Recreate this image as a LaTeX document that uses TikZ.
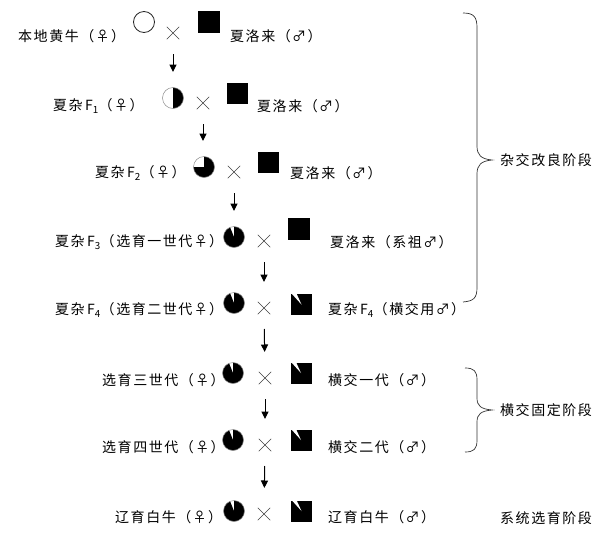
\documentclass[tikz,border=0pt]{standalone}
\usepackage{fontspec}
\setmainfont{Noto Sans CJK SC}[LetterSpace=11]
\usepackage{tikz}
\usetikzlibrary{arrows.meta, shapes.misc}
\newcommand{\fsym}{\makebox[1.2em]{♀}}
\newcommand{\msym}{\makebox[1.2em]{♂}}
\tikzset{
	x=1pt, y=1pt, % one unit is one pixel of the reference
	tag/.style={font=\fontsize{14}{16}\selectfont, inner sep=0pt, anchor=west}, % every text
	cow/.style={circle, draw=black!85, line width=0.8pt, minimum size=21pt, inner sep=0pt}, % female symbol
	hybrid/.style={cow, draw=black!45, line width=0.5pt, path picture={\fill (path picture bounding box.center) -- ++(#1:13pt) arc[start angle=#1, end angle=450, radius=13pt] -- cycle;}}, % black from #1 round to the top
	bull/.style={rectangle, fill=black, minimum size=21pt, inner sep=0pt}, % male symbol
	cbull/.style={bull, path picture={\fill[white] (path picture bounding box.center) -- ([xshift=1pt]path picture bounding box.north west) -- ([xshift=-4.8pt]path picture bounding box.north) -- cycle;}},
	mate/.style={cross out, draw=black!75, line width=0.5pt, minimum size=12pt, inner sep=0pt}, % the cross sign
	gen/.style={-{Triangle[length=7.5pt, width=7pt]}, line width=1pt, shorten <=21pt, shorten >=26pt}, % next generation
	bracket/.style={draw=black!80, line width=0.7pt},
}

\begin{document}
\begin{tikzpicture}
	\useasboundingbox (0,0) rectangle (603,-536);

	% Define the rows
	\node[tag] (lf1) at (18,-36) {本地黄牛（\fsym）};
	\node[cow] (f1) at (144,-22) {};
	\node[mate] (x1) at (173,-33) {};
	\node[bull, minimum size=22pt] (m1) at (209,-22) {};
	\node[tag] (rt1) at (230,-36) {夏洛来（\msym）};

	\node[tag] (lf2) at (53,-106) {夏杂\,F\textsubscript{1}（\fsym）};
	\node[hybrid=270] (f2) at (173,-98) {};
	\node[mate] (x2) at (203,-103) {};
	\node[bull] (m2) at (237.5,-93) {};
	\node[tag] (rt2) at (257,-106) {夏洛来（\msym）};

	\node[tag] (lf3) at (95,-173) {夏杂\,F\textsubscript{2}（\fsym）};
	\node[hybrid=180] (f3) at (204,-167) {};
	\node[mate] (x3) at (234,-172) {};
	\node[bull] (m3) at (268,-162.5) {};
	\node[tag] (rt3) at (290,-173) {夏洛来（\msym）};

	\node[tag] (lf4) at (55,-242) {夏杂\,F\textsubscript{3}（选育一世代\fsym）};
	\node[hybrid=112] (f4) at (234,-237) {};
	\node[mate] (x4) at (264,-241) {};
	\node[bull, minimum size=22pt] (m4) at (299,-229) {};
	\node[tag] (rt4) at (330,-242) {夏洛来（系祖\msym）};

	\node[tag] (lf5) at (55,-310) {夏杂\,F\textsubscript{4}（选育二世代\fsym）};
	\node[hybrid=112] (f5) at (234,-303) {};
	\node[mate] (x5) at (264,-308) {};
	\node[cbull] (m5) at (301.5,-304.5) {};
	\node[tag] (rt5) at (328,-310) {夏杂\,F\textsubscript{4}（横交用\msym）};

	\node[tag] (lf6) at (102,-380) {选育三世代（\fsym）};
	\node[hybrid=112] (f6) at (233,-373) {};
	\node[mate] (x6) at (265,-378) {};
	\node[cbull] (m6) at (301,-373) {};
	\node[tag] (rt6) at (328,-380) {横交一代（\msym）};

	\node[tag] (lf7) at (102,-447) {选育四世代（\fsym）};
	\node[hybrid=112] (f7) at (233,-440) {};
	\node[mate] (x7) at (265,-445) {};
	\node[cbull] (m7) at (301,-440) {};
	\node[tag] (rt7) at (328,-447) {横交二代（\msym）};

	\node[tag] (lf8) at (115,-517) {辽育白牛（\fsym）};
	\node[hybrid=112] (f8) at (234,-511) {};
	\node[mate] (x8) at (264,-514) {};
	\node[cbull] (m8) at (301.5,-511) {};
	\node[tag] (rt8) at (328,-517) {辽育白牛（\msym）};

	% Stages
	\node[tag] (st1) at (500,-160) {杂交改良阶段};
	\node[tag] (st2) at (500,-410) {横交固定阶段};
	\node[tag] (st3) at (500,-518) {系统选育阶段};

	% Generations
	\draw[gen] (x1.center) -- (x1.center |- f2.center);
	\draw[gen] (x2.center) -- (x2.center |- f3.center);
	\draw[gen] (x3.center) -- (x3.center |- f4.center);
	\draw[gen] (x4.center) -- (x5.center);
	\draw[gen] (x5.center) -- (x6.center);
	\draw[gen] (x6.center) -- (x7.center);
	\draw[gen] (x7.center) -- (x8.center);

	% Braces
	\draw[bracket] (463,-13) .. controls (474,-13) and (477,-17) .. (477,-28) -- (477,-146)
		.. controls (477,-155) and (481,-159) .. (492,-160)
		.. controls (481,-161) and (477,-165) .. (477,-174) -- (477,-287)
		.. controls (477,-298) and (474,-301) .. (463,-302);
	\draw[bracket] (465,-368) .. controls (474,-368) and (477,-371) .. (477,-380) -- (477,-398)
		.. controls (477,-406) and (481,-409) .. (492,-410)
		.. controls (481,-411) and (477,-414) .. (477,-422) -- (477,-440)
		.. controls (477,-449) and (474,-452) .. (465,-452);
\end{tikzpicture}
\end{document}
